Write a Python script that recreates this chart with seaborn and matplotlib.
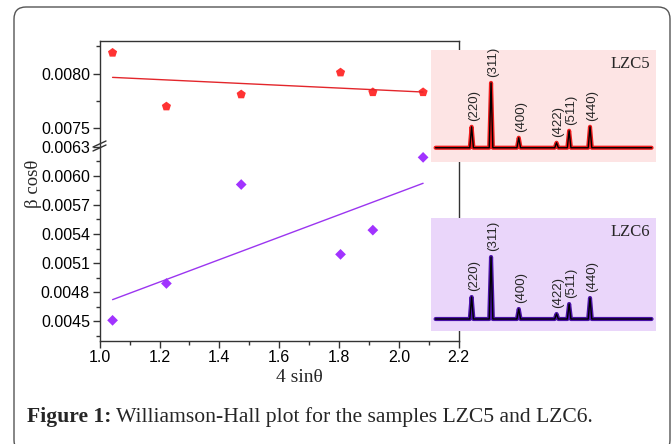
import seaborn as sns
import matplotlib.pyplot as plt
from matplotlib.patches import FancyBboxPatch
from matplotlib.lines import Line2D
from matplotlib.ticker import FixedLocator, MultipleLocator, FormatStrFormatter

# Williamson-Hall data
four_sin = [1.043, 1.223, 1.473, 1.805, 1.913, 2.081]
beta_cos_lzc5 = [0.00819, 0.00770, 0.00781, 0.00801, 0.00783, 0.00783]
beta_cos_lzc6 = [0.00451, 0.00489, 0.00591, 0.00519, 0.00544, 0.00619]

# XRD insets: peak positions (2 theta) and heights above baseline
hkl = ["(220)", "(311)", "(400)", "(422)", "(511)", "(440)"]
two_theta = [30.0, 35.4, 43.1, 53.6, 57.1, 62.9]
height_lzc5 = [21, 65, 10, 5, 17, 21]
height_lzc6 = [22, 62, 10, 5, 15, 21]

SANS = ["Liberation Sans", "DejaVu Sans"]
SERIF = ["Liberation Serif", "DejaVu Serif"]


def trace(heights):
    """Baseline plus a narrow triangle for every peak."""
    xs, ys = [20.0], [0.0]
    for pos, h in zip(two_theta, heights):
        xs += [pos - 0.5, pos, pos + 0.5]
        ys += [0.0, h, 0.0]
    xs.append(80.0)
    ys.append(0.0)
    return xs, ys


def draw_inset(ax, heights, noise_color, face, name, ylim):
    ax.set_facecolor(face)
    xs, ys = trace(heights)
    sns.lineplot(x=xs, y=ys, ax=ax, sort=False, estimator=None,
                 color=noise_color, lw=3.0)
    sns.lineplot(x=xs, y=ys, ax=ax, sort=False, estimator=None,
                 color="black", lw=1.0)
    for lab, pos, h in zip(hkl, two_theta, heights):
        ax.annotate(lab, xy=(pos, h), xytext=(1.5, 4), textcoords="offset points",
                    rotation=90, ha="center", va="bottom", fontsize=9.5,
                    family=SANS)
    ax.text(0.975, 0.95, name, transform=ax.transAxes, ha="right", va="top",
            fontsize=12, family=SERIF)
    ax.set_xlim(18.8, 81.1)
    ax.set_ylim(*ylim)
    ax.set_xticks([])
    ax.set_yticks([])
    ax.set_xlabel("")
    ax.set_ylabel("")
    for s in ax.spines.values():
        s.set_visible(False)


def main() -> None:
    sns.set_theme(style="ticks", rc={
        "axes.edgecolor": "#333333",
        "axes.linewidth": 1.0,
        "xtick.color": "#333333",
        "ytick.color": "#333333",
        "xtick.labelcolor": "black",
        "ytick.labelcolor": "black",
    })
    plt.rcParams["font.family"] = SANS

    fig = plt.figure(figsize=(6.71, 4.44), dpi=100)
    W, H = 671.0, 444.0

    def fx(px):
        return px / W

    def fy(py):
        return 1 - py / H

    # rounded frame
    frame = FancyBboxPatch((14, -8), 656, 445, boxstyle="round,pad=0,rounding_size=12",
                           transform=None, fill=False, edgecolor="#555555", lw=1.0)
    fig.patches.append(frame)

    left, right = 99.7, 458.7
    ax_up = fig.add_axes([fx(left), fy(146.7), fx(right - left), (146.7 - 40.7) / H])
    ax_lo = fig.add_axes([fx(left), fy(340.7), fx(right - left), (340.7 - 146.7) / H])

    sns.regplot(x=four_sin, y=beta_cos_lzc5, ax=ax_up, ci=None, marker="p",
                scatter_kws={"s": 48, "color": "#ff0000", "edgecolor": "none"},
                line_kws={"lw": 1.0, "color": "#e3262b"})
    sns.regplot(x=four_sin, y=beta_cos_lzc6, ax=ax_lo, ci=None, marker="D",
                scatter_kws={"s": 30, "color": "#8a00ff", "edgecolor": "none"},
                line_kws={"lw": 1.0, "color": "#9b35f0"})

    for ax in (ax_up, ax_lo):
        ax.set_xlim(1.0, 2.2)
        ax.set_xlabel("")
        ax.set_ylabel("")
        ax.yaxis.set_major_formatter(FormatStrFormatter("%.4f"))
        ax.tick_params(axis="both", which="major", length=5, width=1,
                       labelsize=11.5, direction="out", pad=2)
        ax.tick_params(axis="both", which="minor", length=3, width=1,
                       direction="out")

    ax_up.set_ylim(0.007333, 0.0083)
    ax_up.yaxis.set_major_locator(FixedLocator([0.0075, 0.0080]))
    ax_up.yaxis.set_minor_locator(FixedLocator([0.00775, 0.00825]))
    ax_up.spines["bottom"].set_visible(False)
    ax_up.tick_params(axis="x", which="both", bottom=False, labelbottom=False)

    ax_lo.set_ylim(0.0043, 0.0063)
    ax_lo.yaxis.set_major_locator(FixedLocator([0.0045, 0.0048, 0.0051, 0.0054,
                                                0.0057, 0.0060, 0.0063]))
    ax_lo.yaxis.set_minor_locator(FixedLocator([0.00435, 0.00465, 0.00495, 0.00525,
                                                0.00555, 0.00585, 0.00615]))
    ax_lo.spines["top"].set_visible(False)
    ax_lo.xaxis.set_major_locator(MultipleLocator(0.2))
    ax_lo.xaxis.set_minor_locator(MultipleLocator(0.1))
    ax_lo.xaxis.set_major_formatter(FormatStrFormatter("%.1f"))

    # axis break marks
    for dy in (0, 4):
        fig.add_artist(Line2D([fx(93), fx(106)], [fy(147 + dy), fy(141 + dy)],
                              color="#333333", lw=1.0))

    fig.text(fx(299), fy(378), "4 sin\u03b8", ha="center", va="center",
             fontsize=14, family=SERIF)
    fig.text(fx(33), fy(184), "\u03b2 cos\u03b8", ha="center", va="center",
             rotation=90, fontsize=13.5, family=SERIF)

    # XRD insets
    ins1 = fig.add_axes([fx(431.3), fy(161.7), fx(655.5 - 431.3), (161.7 - 50) / H])
    ins2 = fig.add_axes([fx(431.3), fy(330.7), fx(655.5 - 431.3), (330.7 - 218.3) / H])
    ins1.set_zorder(5)
    ins2.set_zorder(5)
    draw_inset(ins1, height_lzc5, "#ee1c1c", "#fde4e4", "LZC5", (-14, 98))
    draw_inset(ins2, height_lzc6, "#4a12a8", "#ead6fa", "LZC6", (-11.7, 100.7))

    # caption
    t1 = fig.text(fx(27), fy(417), "Figure 1:", ha="left", va="center",
                  fontsize=15.6, fontweight="bold", family=SERIF)
    ax_lo.annotate(" Williamson-Hall plot for the samples LZC5 and LZC6.",
                   xy=(1, 0.5), xycoords=t1, ha="left", va="center",
                   fontsize=15.6, family=SERIF, annotation_clip=False)

    fig.savefig("out.png", dpi=100)


if __name__ == "__main__":
    main()
